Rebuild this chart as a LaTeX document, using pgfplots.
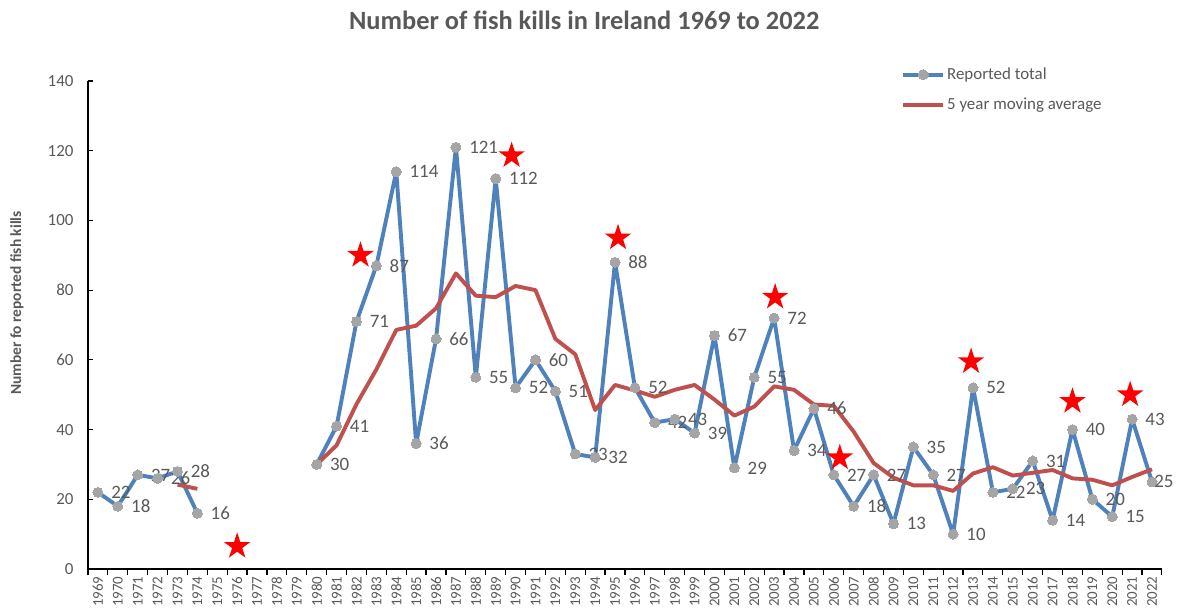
\documentclass[border=0pt]{standalone}
\usepackage{pgfplots}
\pgfplotsset{compat=1.18}
\usepackage{fontspec}
\setmainfont{Carlito}
\definecolor{txt}{HTML}{595959}
\definecolor{blueline}{HTML}{4F81BD}
\definecolor{redline}{HTML}{C0504D}
\definecolor{markgray}{HTML}{A5A5A5}
\definecolor{starred}{HTML}{FF0000}

\pgfdeclareplotmark{fstar}{%
  \pgfpathmoveto{\pgfpointpolar{90}{\pgfplotmarksize}}%
  \pgfpathlineto{\pgfpointpolar{126}{0.382*\pgfplotmarksize}}%
  \pgfpathlineto{\pgfpointpolar{162}{\pgfplotmarksize}}%
  \pgfpathlineto{\pgfpointpolar{198}{0.382*\pgfplotmarksize}}%
  \pgfpathlineto{\pgfpointpolar{234}{\pgfplotmarksize}}%
  \pgfpathlineto{\pgfpointpolar{270}{0.382*\pgfplotmarksize}}%
  \pgfpathlineto{\pgfpointpolar{306}{\pgfplotmarksize}}%
  \pgfpathlineto{\pgfpointpolar{342}{0.382*\pgfplotmarksize}}%
  \pgfpathlineto{\pgfpointpolar{18}{\pgfplotmarksize}}%
  \pgfpathlineto{\pgfpointpolar{54}{0.382*\pgfplotmarksize}}%
  \pgfpathclose\pgfusepathqfill}

\begin{document}
\begin{tikzpicture}
\begin{axis}[
  scale only axis, width=1074bp, height=488bp,
  xmin=1968.5, xmax=2022.5, ymin=0, ymax=140,
  axis lines*=left,
  axis line style={black, line width=1.5bp},
  /pgf/number format/assume math mode=true,
  /pgf/number format/1000 sep={},
  unbounded coords=jump,
  tick align=inside,
  ytick={0,20,...,140},
  major tick length=5bp,
  y tick style={black, line width=1.2bp},
  xtick={1969,1970,1971,1972,1973,1974,1975,1976,1977,1978,1979,1980,1981,1982,1983,1984,1985,1986,1987,1988,1989,1990,1991,1992,1993,1994,1995,1996,1997,1998,1999,2000,2001,2002,2003,2004,2005,2006,2007,2008,2009,2010,2011,2012,2013,2014,2015,2016,2017,2018,2019,2020,2021,2022},
  xticklabels={1969,1970,1971,1972,1973,1974,1975,1976,1977,1978,1979,1980,1981,1982,1983,1984,1985,1986,1987,1988,1989,1990,1991,1992,1993,1994,1995,1996,1997,1998,1999,2000,2001,2002,2003,2004,2005,2006,2007,2008,2009,2010,2011,2012,2013,2014,2015,2016,2017,2018,2019,2020,2021,2022},
  major x tick style={draw=none},
  minor xtick={1968.5,1969.5,...,2022.5},
  minor tick length=6bp,
  minor x tick style={black, line width=1.2bp, yshift=-6bp},
  x tick label style={rotate=90, anchor=east, font=\fontsize{15}{15}\selectfont, text=txt},
  xticklabel shift=4bp,
  y tick label style={font=\fontsize{17}{19}\selectfont, text=txt},
  yticklabel shift=11bp,
  title={Number of fish kills in Ireland 1969 to 2022},
  title style={at={(axis description cs:0.462,1.112)}, anchor=center, font=\bfseries\fontsize{26.5}{30}\selectfont, text=txt},
  ylabel={Number fo reported fish kills},
  ylabel style={at={(axis description cs:-0.0661,0.545)}, anchor=center, font=\bfseries\fontsize{15.5}{18}\selectfont, text=txt},
  legend style={at={(axis description cs:0.757,1.031)}, anchor=north west, draw=none, fill=none, font=\fontsize{17}{20}\selectfont, text=txt, row sep=13bp, inner sep=0bp},
  legend cell align=left,
  legend image code/.code={\draw[mark repeat=2,mark phase=2] plot coordinates {(0bp,0bp) (20bp,0bp) (40bp,0bp)};},
]
\addplot[blueline, line width=3.9bp, line join=round,
  mark=*, mark size=5bp, mark options={draw=markgray, fill=markgray, line width=0bp},
  visualization depends on={\thisrow{dx} \as \dx},
  nodes near coords,
  every node near coord/.append style={anchor=west, xshift=\dx bp, font=\fontsize{19}{21}\selectfont, text=txt}]
table {
x y dx
1969 22 10
1970 18 10
1971 27 10
1972 26 10
1973 28 10
1974 16 10
1975 nan 10
1976 nan 10
1977 nan 10
1978 nan 10
1979 nan 10
1980 30 10
1981 41 10
1982 71 10
1983 87 10
1984 114 10
1985 36 10
1986 66 10
1987 121 10
1988 55 10
1989 112 10
1990 52 10
1991 60 10
1992 51 10
1993 33 10
1994 32 10
1995 88 10
1996 52 10
1997 42 10
1998 43 10
1999 39 10
2000 67 10
2001 29 10
2002 55 10
2003 72 10
2004 34 10
2005 46 10
2006 27 10
2007 18 10
2008 27 10
2009 13 10
2010 35 10
2011 27 10
2012 10 10
2013 52 10
2014 22 10
2015 23 10
2016 31 10
2017 14 10
2018 40 10
2019 20 10
2020 15 10
2021 43 10
2022 25 -1
};
\addlegendentry{Reported total}
\addplot[redline, line width=3.9bp, line join=round, no marks]
table {
x y
1973 24.2
1974 23.0
1975 nan
1980 30.0
1981 35.5
1982 47.3
1983 57.25
1984 68.6
1985 69.8
1986 74.8
1987 84.8
1988 78.4
1989 78.0
1990 81.2
1991 80.0
1992 66.0
1993 61.6
1994 45.6
1995 52.8
1996 51.2
1997 49.4
1998 51.4
1999 52.8
2000 48.6
2001 44.0
2002 46.6
2003 52.4
2004 51.4
2005 47.2
2006 46.8
2007 39.4
2008 30.4
2009 26.2
2010 24.0
2011 24.0
2012 22.4
2013 27.4
2014 29.2
2015 26.8
2016 27.6
2017 28.4
2018 26.0
2019 25.6
2020 24.0
2021 26.4
2022 28.6
};
\addlegendentry{5 year moving average}
\addplot[only marks, mark=fstar, mark size=14bp, color=starred, forget plot]
table {
x y
1976 6.5
1982.2 90.0
1989.8 118.6
1995.15 95.0
2003.05 78.0
2006.3 31.9
2012.9 59.5
2018.0 48.1
2020.9 50.0
};
\end{axis}
\pgfresetboundingbox
\useasboundingbox (-88bp,-44bp) rectangle (1093bp,569bp);
\end{tikzpicture}
\end{document}
